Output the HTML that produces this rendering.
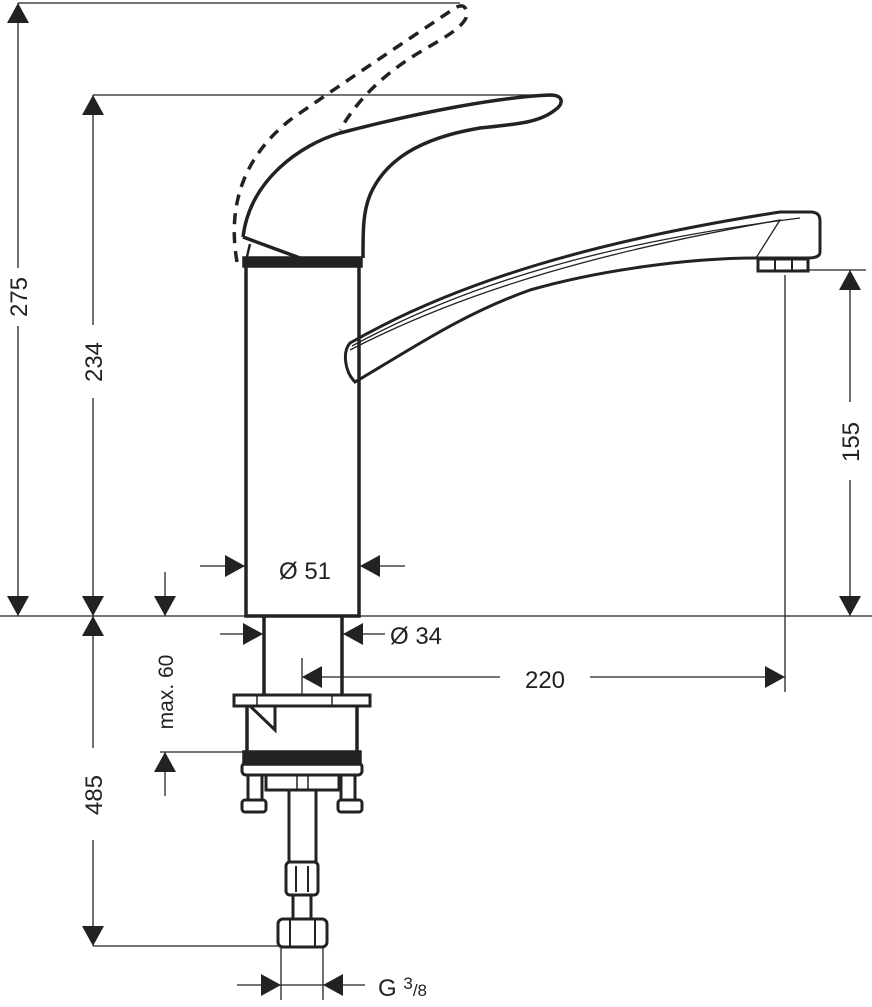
<!DOCTYPE html>
<html><head><meta charset="utf-8"><style>
html,body{margin:0;padding:0;background:#fff}
svg{display:block}
text{font-family:"Liberation Sans","DejaVu Sans",sans-serif;fill:#222}
</style></head><body>
<svg width="872" height="1007" viewBox="0 0 872 1007" xmlns="http://www.w3.org/2000/svg">
<defs>
<path id="ad" d="M-11,-20 L11,-20 L0,0 Z" fill="#222"/>
</defs>
<g stroke="#222" fill="none">
<g stroke-width="1.3">
<line x1="0" y1="616" x2="872" y2="616"/>
<line x1="18" y1="3" x2="460" y2="3"/>
<line x1="18" y1="3" x2="18" y2="268"/><line x1="18" y1="326" x2="18" y2="616"/>
<line x1="93" y1="95" x2="555" y2="95"/>
<line x1="93" y1="95" x2="93" y2="325"/><line x1="93" y1="398" x2="93" y2="616"/>
<line x1="93" y1="616" x2="93" y2="748"/><line x1="93" y1="840" x2="93" y2="946"/>
<line x1="93" y1="946" x2="282" y2="946"/>
<line x1="800" y1="270" x2="866" y2="270"/>
<line x1="850" y1="270" x2="850" y2="402"/><line x1="850" y1="480" x2="850" y2="616"/>
<line x1="785" y1="275" x2="785" y2="692"/>
<line x1="200" y1="566" x2="245" y2="566"/><line x1="360" y1="566" x2="405" y2="566"/>
<line x1="165" y1="572" x2="165" y2="616"/>
<line x1="165" y1="752" x2="165" y2="796"/>
<line x1="160" y1="752" x2="245" y2="752"/>
<line x1="220" y1="634" x2="263" y2="634"/><line x1="343" y1="634" x2="385" y2="634"/>
<line x1="302" y1="658" x2="302" y2="695"/>
<line x1="302" y1="677" x2="500" y2="677"/><line x1="590" y1="677" x2="785" y2="677"/>
<line x1="281" y1="948" x2="281" y2="1000"/><line x1="323" y1="948" x2="323" y2="1000"/>
<line x1="237" y1="985" x2="365" y2="985"/>
</g>
<g stroke="none">
<use href="#ad" transform="translate(18,616)"/>
<use href="#ad" transform="translate(18,3) rotate(180)"/>
<use href="#ad" transform="translate(93,616)"/>
<use href="#ad" transform="translate(93,95) rotate(180)"/>
<use href="#ad" transform="translate(93,616) rotate(180)"/>
<use href="#ad" transform="translate(93,946)"/>
<use href="#ad" transform="translate(850,616)"/>
<use href="#ad" transform="translate(850,270) rotate(180)"/>
<use href="#ad" transform="translate(165,616)"/>
<use href="#ad" transform="translate(165,752) rotate(180)"/>
<use href="#ad" transform="translate(245,566) rotate(-90)"/>
<use href="#ad" transform="translate(360,566) rotate(90)"/>
<use href="#ad" transform="translate(263,634) rotate(-90)"/>
<use href="#ad" transform="translate(343,634) rotate(90)"/>
<use href="#ad" transform="translate(302,677) rotate(90)"/>
<use href="#ad" transform="translate(785,677) rotate(-90)"/>
<use href="#ad" transform="translate(281,985) rotate(-90)"/>
<use href="#ad" transform="translate(323,985) rotate(90)"/>
</g>
<g stroke-width="3.5">
<rect x="246" y="262" width="113" height="354"/>
<rect x="244" y="258" width="117" height="8" fill="#222"/>
<path d="M243,237 C250,180 300,145 340,133 C420,112 500,97 550,95 C565,95 563,105 555,110 C540,122 520,124 480,128 C420,138 385,160 370,195 C363,212 363,230 363,258"/>
<path d="M243,237 L300,258"/>
<path d="M250,244 C248,252 247,256 246,262" stroke-width="2.5"/>
<path d="M237,262 C228,210 240,160 290,120 C340,85 400,45 455,8 C465,2 468,10 466,18 C460,30 440,40 420,52 C390,70 360,95 340,130" stroke-dasharray="11,8" stroke-width="3.5"/>
<path d="M355,382 C345,372 342,352 350,343 C460,280 600,240 780,212 L812,212 C820,213 820,218 820,222 L820,252 C820,256 816,258 808,258 L756,258 C690,258 600,270 530,290 C460,315 410,350 355,382 Z" stroke-width="3"/>
<path d="M352,346 C470,282 610,242 800,218" stroke-width="1.3"/>
<path d="M350,350 C470,288 610,250 780,220 L756,258" stroke-width="1.3"/>
<rect x="758" y="259" width="50" height="12" stroke-width="3"/>
<line x1="775" y1="259" x2="775" y2="271" stroke-width="2"/><line x1="792" y1="259" x2="792" y2="271" stroke-width="2"/>
<line x1="264" y1="616" x2="264" y2="695"/><line x1="342" y1="616" x2="342" y2="695"/>
<rect x="234" y="695" width="136" height="11" stroke-width="3"/>
<line x1="257" y1="695" x2="257" y2="706" stroke-width="1.5"/><line x1="332" y1="695" x2="332" y2="706" stroke-width="1.5"/>
<path d="M247,706 L247,752 M357,706 L357,752"/>
<path d="M250,706 L275,730 L275,706" stroke-width="3"/>
<rect x="244" y="752" width="116" height="12" fill="#222"/>
<rect x="242" y="763" width="120" height="12" rx="4" stroke-width="3"/>
<rect x="248" y="775" width="14" height="25" stroke-width="3"/>
<rect x="341" y="775" width="14" height="25" stroke-width="3"/>
<rect x="242" y="800" width="24" height="12" rx="3" stroke-width="3"/>
<rect x="338" y="800" width="24" height="12" rx="3" stroke-width="3"/>
<rect x="266" y="775" width="73" height="15" stroke-width="3"/>
<line x1="297" y1="775" x2="297" y2="790" stroke-width="1.5"/><line x1="308" y1="775" x2="308" y2="790" stroke-width="1.5"/>
<rect x="289" y="790" width="27" height="72" stroke-width="3"/>
<rect x="286" y="862" width="32" height="33" rx="4" stroke-width="3"/>
<line x1="296" y1="866" x2="296" y2="892" stroke-width="2"/><line x1="308" y1="866" x2="308" y2="892" stroke-width="2"/>
<rect x="293" y="895" width="18" height="24" stroke-width="3"/>
<rect x="278" y="919" width="49" height="28" rx="5" stroke-width="3"/>
<line x1="290" y1="919" x2="290" y2="947" stroke-width="2"/><line x1="315" y1="919" x2="315" y2="947" stroke-width="2"/>
</g>
</g>
<g font-size="24">
<text x="305" y="579" text-anchor="middle">Ø 51</text>
<text x="390" y="644">Ø 34</text>
<text x="545" y="688" text-anchor="middle">220</text>
<text x="378" y="996">G <tspan font-size="17" dy="-7">3</tspan><tspan font-size="17" dy="7">/8</tspan></text>
<text transform="translate(27,297) rotate(-90)" text-anchor="middle">275</text>
<text transform="translate(102,362) rotate(-90)" text-anchor="middle">234</text>
<text transform="translate(102,795) rotate(-90)" text-anchor="middle">485</text>
<text transform="translate(859,442) rotate(-90)" text-anchor="middle">155</text>
<text transform="translate(173,692) rotate(-90)" text-anchor="middle" font-size="21">max. 60</text>
</g>
</svg>
</body></html>
